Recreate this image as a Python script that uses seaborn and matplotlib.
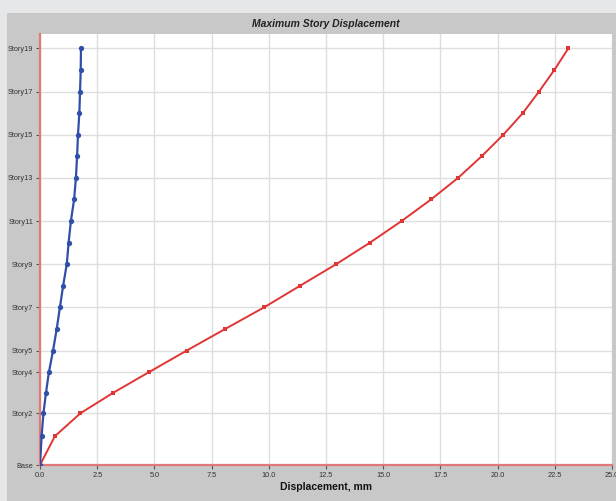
import matplotlib
matplotlib.use("Agg")
import matplotlib.pyplot as plt
import seaborn as sns
import pandas as pd
from matplotlib.patches import Rectangle

stories = ["Base"] + [f"Story{i}" for i in range(1, 20)]
elevations = [0.0, 4.0, 7.2, 10.0, 12.9] + [12.9 + 3.0 * k for k in range(1, 16)]

disp_red = [0.0, 0.65, 1.77, 3.18, 4.76, 6.41, 8.09, 9.79, 11.36, 12.94,
            14.42, 15.80, 17.09, 18.27, 19.30, 20.25, 21.10, 21.81, 22.48, 23.09]
disp_blue = [0.0, 0.07, 0.15, 0.26, 0.39, 0.57, 0.73, 0.87, 1.01, 1.17,
             1.25, 1.35, 1.49, 1.57, 1.62, 1.66, 1.72, 1.75, 1.78, 1.79]

tick_stories = ["Base", "Story2", "Story4", "Story5", "Story7", "Story9",
                "Story11", "Story13", "Story15", "Story17", "Story19"]
x_ticks = [0.0, 2.5, 5.0, 7.5, 10.0, 12.5, 15.0, 17.5, 20.0, 22.5, 25.0]

df_red = pd.DataFrame({"disp": disp_red, "elev": elevations, "story": stories})
df_blue = pd.DataFrame({"disp": disp_blue, "elev": elevations, "story": stories})

sns.set_theme(style="white")
plt.rcParams["font.family"] = ["Liberation Sans", "DejaVu Sans"]

fig = plt.figure(figsize=(6.16, 5.01), dpi=100)
fig.patch.set_facecolor("#e4e6e8")
panel = Rectangle((7 / 616, 0.0), 1.0, 1 - 13 / 501,
                  transform=fig.transFigure, facecolor="#c8c8c8",
                  edgecolor="none", zorder=-10)
fig.patches.append(panel)

ax = fig.add_axes([40 / 616, 1 - 465 / 501, (612 - 40) / 616, (465 - 34) / 501])
ax.set_zorder(5)
ax.set_facecolor("white")

sns.lineplot(data=df_red, x="disp", y="elev", sort=False, estimator=None,
             color="#e03535", linewidth=1.4, marker="s", markersize=3.2,
             markeredgewidth=0, ax=ax, zorder=3)
sns.lineplot(data=df_blue, x="disp", y="elev", sort=False, estimator=None,
             color="#2f4fa8", linewidth=1.6, marker="o", markersize=3.8,
             markeredgewidth=0, ax=ax, zorder=4)

ax.set_xlim(0, 25)
ax.set_ylim(0, 59.9)
ax.set_xticks(x_ticks)
ax.set_xticklabels([f"{v:.1f}" for v in x_ticks])
ax.set_yticks([elevations[stories.index(s)] for s in tick_stories])
ax.set_yticklabels(tick_stories)

ax.grid(True, color="#dedede", linewidth=1.0)
ax.set_axisbelow(True)
for side in ["top", "right"]:
    ax.spines[side].set_visible(False)
for side in ["left", "bottom"]:
    ax.spines[side].set_color("#e27878")
    ax.spines[side].set_linewidth(1.6)
    ax.spines[side].set_zorder(2)

ax.tick_params(axis="both", which="both", length=3, width=0.8, color="#555555",
               labelsize=5.3, labelcolor="#333333", pad=2,
               left=True, bottom=True)

ax.set_xlabel("Displacement, mm", fontsize=7.5, fontweight="bold", color="#111111",
              labelpad=2)
ax.set_ylabel("")
ax.set_title("Maximum Story Displacement", fontsize=7.5, fontweight="bold",
             fontstyle="italic", color="#222222", pad=5)

fig.savefig("out.png", dpi=100, facecolor=fig.get_facecolor())
